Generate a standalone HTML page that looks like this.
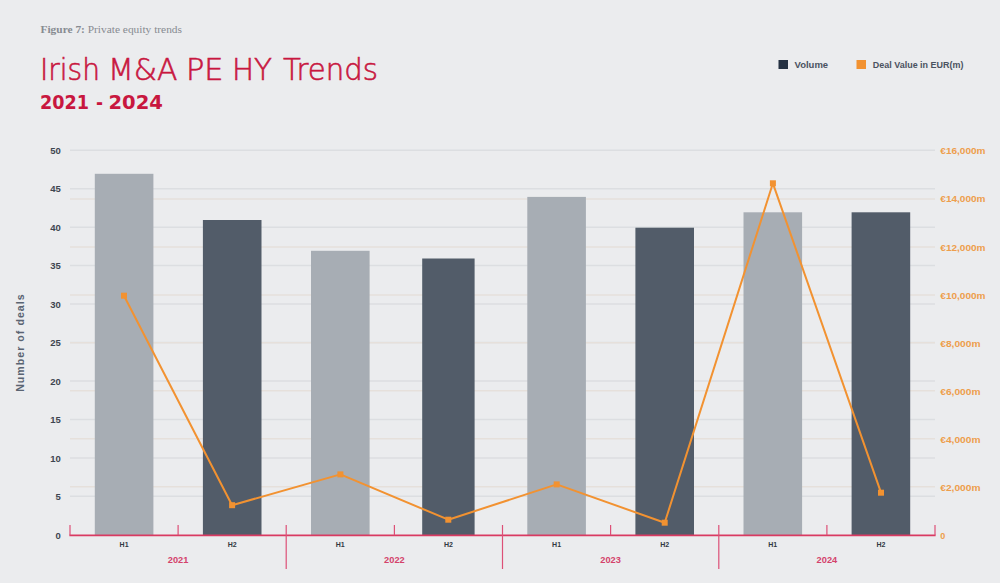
<!DOCTYPE html>
<html><head><meta charset="utf-8"><title>Irish M&amp;A PE HY Trends</title>
<style>
html,body{margin:0;padding:0;background:#ebecee;}
svg{display:block;}
text{font-family:"Liberation Sans",sans-serif;}
.yl{font-size:9.5px;font-weight:bold;fill:#3e4550;}
.rl{font-size:9px;font-weight:bold;fill:#ee9e4c;}
.xl{font-size:7px;font-weight:bold;fill:#323943;}
.yr{font-size:9px;font-weight:bold;fill:#d4426b;}
.yt{font-size:10px;font-weight:bold;fill:#5a6472;letter-spacing:1px;}
.fig{font-family:"Liberation Serif",serif;font-size:11px;fill:#878b91;}
.title text{font-family:"DejaVu Sans",sans-serif;font-weight:200;font-size:30px;fill:#c8173f;stroke:#c8173f;stroke-width:0.6px;}
.sub text{font-family:"DejaVu Sans",sans-serif;font-size:20px;font-weight:bold;fill:#c8173f;}
.lg{font-size:9.5px;font-weight:bold;fill:#4a5260;}
</style></head>
<body><svg width="1000" height="583" viewBox="0 0 1000 583">
<rect x="0" y="0" width="1000" height="583" fill="#ebecee"/>
<line x1="70" y1="496.3" x2="935" y2="496.3" stroke="#dcdee1" stroke-width="1.5"/>
<line x1="70" y1="457.9" x2="935" y2="457.9" stroke="#dcdee1" stroke-width="1.5"/>
<line x1="70" y1="419.4" x2="935" y2="419.4" stroke="#dcdee1" stroke-width="1.5"/>
<line x1="70" y1="381.0" x2="935" y2="381.0" stroke="#dcdee1" stroke-width="1.5"/>
<line x1="70" y1="342.5" x2="935" y2="342.5" stroke="#dcdee1" stroke-width="1.5"/>
<line x1="70" y1="304.1" x2="935" y2="304.1" stroke="#dcdee1" stroke-width="1.5"/>
<line x1="70" y1="265.6" x2="935" y2="265.6" stroke="#dcdee1" stroke-width="1.5"/>
<line x1="70" y1="227.2" x2="935" y2="227.2" stroke="#dcdee1" stroke-width="1.5"/>
<line x1="70" y1="188.7" x2="935" y2="188.7" stroke="#dcdee1" stroke-width="1.5"/>
<line x1="70" y1="150.3" x2="935" y2="150.3" stroke="#dcdee1" stroke-width="1.5"/>
<line x1="70" y1="486.7" x2="935" y2="486.7" stroke="#e6e0db" stroke-width="1.5"/>
<line x1="70" y1="438.7" x2="935" y2="438.7" stroke="#e6e0db" stroke-width="1.5"/>
<line x1="70" y1="390.8" x2="935" y2="390.8" stroke="#e6e0db" stroke-width="1.5"/>
<line x1="70" y1="342.8" x2="935" y2="342.8" stroke="#e6e0db" stroke-width="1.5"/>
<line x1="70" y1="294.9" x2="935" y2="294.9" stroke="#e6e0db" stroke-width="1.5"/>
<line x1="70" y1="246.9" x2="935" y2="246.9" stroke="#e6e0db" stroke-width="1.5"/>
<line x1="70" y1="198.9" x2="935" y2="198.9" stroke="#e6e0db" stroke-width="1.5"/>
<rect x="94.8" y="173.8" width="58.6" height="361.5" fill="#a7adb4"/>
<rect x="202.9" y="220.0" width="58.6" height="315.3" fill="#525c69"/>
<rect x="311.0" y="250.8" width="58.6" height="284.5" fill="#a7adb4"/>
<rect x="422.2" y="258.5" width="52.4" height="276.8" fill="#525c69"/>
<rect x="527.3" y="196.9" width="58.6" height="338.4" fill="#a7adb4"/>
<rect x="635.4" y="227.7" width="58.6" height="307.6" fill="#525c69"/>
<rect x="743.5" y="212.3" width="58.6" height="323.0" fill="#a7adb4"/>
<rect x="851.6" y="212.3" width="58.6" height="323.0" fill="#525c69"/>
<polyline points="124.0,295.7 232.1,505.2 340.4,474.4 448.3,519.7 556.7,484.4 664.7,522.7 772.9,183.3 881.0,492.7" fill="none" stroke="#f29231" stroke-width="2" stroke-linejoin="round"/>
<rect x="121.0" y="292.7" width="6" height="6" fill="#f29231"/>
<rect x="229.1" y="502.2" width="6" height="6" fill="#f29231"/>
<rect x="337.4" y="471.4" width="6" height="6" fill="#f29231"/>
<rect x="445.3" y="516.7" width="6" height="6" fill="#f29231"/>
<rect x="553.7" y="481.4" width="6" height="6" fill="#f29231"/>
<rect x="661.7" y="519.7" width="6" height="6" fill="#f29231"/>
<rect x="769.9" y="180.3" width="6" height="6" fill="#f29231"/>
<rect x="878.0" y="489.7" width="6" height="6" fill="#f29231"/>
<line x1="69.4" y1="535.3" x2="935.6" y2="535.3" stroke="#d93a62" stroke-width="1.8"/>
<line x1="70.0" y1="525" x2="70.0" y2="535.3" stroke="#dd5077" stroke-width="1.2"/>
<line x1="178.1" y1="525" x2="178.1" y2="535.3" stroke="#dd5077" stroke-width="1.2"/>
<line x1="286.2" y1="525" x2="286.2" y2="569" stroke="#dd5077" stroke-width="1.2"/>
<line x1="394.4" y1="525" x2="394.4" y2="535.3" stroke="#dd5077" stroke-width="1.2"/>
<line x1="502.5" y1="525" x2="502.5" y2="569" stroke="#dd5077" stroke-width="1.2"/>
<line x1="610.6" y1="525" x2="610.6" y2="535.3" stroke="#dd5077" stroke-width="1.2"/>
<line x1="718.8" y1="525" x2="718.8" y2="569" stroke="#dd5077" stroke-width="1.2"/>
<line x1="826.9" y1="525" x2="826.9" y2="535.3" stroke="#dd5077" stroke-width="1.2"/>
<line x1="935.0" y1="525" x2="935.0" y2="535.3" stroke="#dd5077" stroke-width="1.2"/>
<text x="60.8" y="538.9" text-anchor="end" class="yl">0</text>
<text x="60.8" y="500.4" text-anchor="end" class="yl">5</text>
<text x="60.8" y="461.9" text-anchor="end" class="yl">10</text>
<text x="60.8" y="423.4" text-anchor="end" class="yl">15</text>
<text x="60.8" y="384.9" text-anchor="end" class="yl">20</text>
<text x="60.8" y="346.4" text-anchor="end" class="yl">25</text>
<text x="60.8" y="307.9" text-anchor="end" class="yl">30</text>
<text x="60.8" y="269.4" text-anchor="end" class="yl">35</text>
<text x="60.8" y="230.9" text-anchor="end" class="yl">40</text>
<text x="60.8" y="192.4" text-anchor="end" class="yl">45</text>
<text x="60.8" y="153.9" text-anchor="end" class="yl">50</text>
<text x="940.3" y="539.3" class="rl">0</text>
<text x="940.3" y="491.2" class="rl" textLength="40.2" lengthAdjust="spacingAndGlyphs">€2,000m</text>
<text x="940.3" y="443.0" class="rl" textLength="40.2" lengthAdjust="spacingAndGlyphs">€4,000m</text>
<text x="940.3" y="394.9" class="rl" textLength="40.2" lengthAdjust="spacingAndGlyphs">€6,000m</text>
<text x="940.3" y="346.8" class="rl" textLength="40.2" lengthAdjust="spacingAndGlyphs">€8,000m</text>
<text x="940.3" y="298.7" class="rl" textLength="45.2" lengthAdjust="spacingAndGlyphs">€10,000m</text>
<text x="940.3" y="250.5" class="rl" textLength="45.2" lengthAdjust="spacingAndGlyphs">€12,000m</text>
<text x="940.3" y="202.4" class="rl" textLength="45.2" lengthAdjust="spacingAndGlyphs">€14,000m</text>
<text x="940.3" y="154.3" class="rl" textLength="45.2" lengthAdjust="spacingAndGlyphs">€16,000m</text>
<text x="124.1" y="547" text-anchor="middle" class="xl">H1</text>
<text x="232.2" y="547" text-anchor="middle" class="xl">H2</text>
<text x="340.3" y="547" text-anchor="middle" class="xl">H1</text>
<text x="448.4" y="547" text-anchor="middle" class="xl">H2</text>
<text x="556.6" y="547" text-anchor="middle" class="xl">H1</text>
<text x="664.7" y="547" text-anchor="middle" class="xl">H2</text>
<text x="772.8" y="547" text-anchor="middle" class="xl">H1</text>
<text x="880.9" y="547" text-anchor="middle" class="xl">H2</text>
<text x="178.1" y="563" text-anchor="middle" class="yr" textLength="20.6" lengthAdjust="spacingAndGlyphs">2021</text>
<text x="394.4" y="563" text-anchor="middle" class="yr" textLength="20.6" lengthAdjust="spacingAndGlyphs">2022</text>
<text x="610.6" y="563" text-anchor="middle" class="yr" textLength="20.6" lengthAdjust="spacingAndGlyphs">2023</text>
<text x="826.9" y="563" text-anchor="middle" class="yr" textLength="20.6" lengthAdjust="spacingAndGlyphs">2024</text>
<text transform="translate(23.6,342.6) rotate(-90)" text-anchor="middle" class="yt" textLength="98.5" lengthAdjust="spacingAndGlyphs">Number of deals</text>
<text x="40.5" y="32.6" class="fig" textLength="141.5" lengthAdjust="spacingAndGlyphs"><tspan font-weight="bold">Figure 7:</tspan> Private equity trends</text>
<g class="title">
<text x="40.0" y="80" textLength="60.0" lengthAdjust="spacingAndGlyphs">Irish</text>
<text x="108" y="80" textLength="69.5" lengthAdjust="spacingAndGlyphs">M&amp;A</text>
<text x="186.0" y="80" textLength="37.5" lengthAdjust="spacingAndGlyphs">PE</text>
<text x="232.0" y="80" textLength="40.0" lengthAdjust="spacingAndGlyphs">HY</text>
<text x="283" y="80" textLength="95" lengthAdjust="spacingAndGlyphs">Trends</text>
</g>
<g class="sub">
<text x="40" y="109.2" textLength="49" lengthAdjust="spacingAndGlyphs">2021</text>
<text x="96" y="109.2" textLength="7" lengthAdjust="spacingAndGlyphs">-</text>
<text x="108.5" y="109.2" textLength="54.5" lengthAdjust="spacingAndGlyphs">2024</text>
</g>
<rect x="778.5" y="60" width="9.5" height="9" fill="#253142"/>
<text x="794.5" y="68" class="lg">Volume</text>
<rect x="856.5" y="60" width="9.5" height="9" fill="#f29231"/>
<text x="872.8" y="68" class="lg" textLength="90.6" lengthAdjust="spacingAndGlyphs">Deal Value in EUR(m)</text>
</svg></body></html>
